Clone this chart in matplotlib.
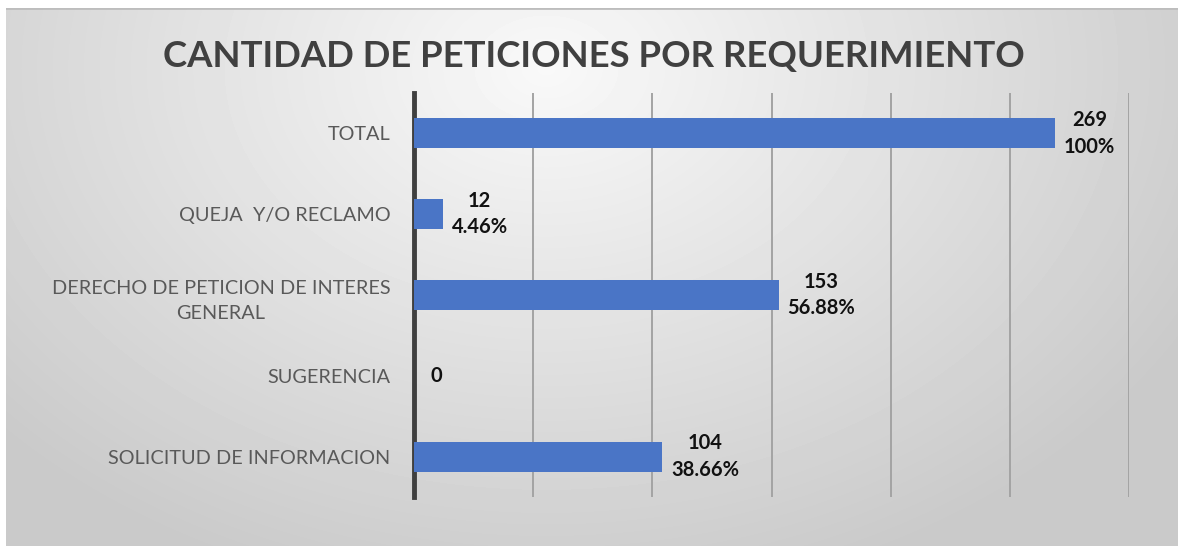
import numpy as np
import matplotlib

matplotlib.use("Agg")
import matplotlib.pyplot as plt

categories = [
    "TOTAL",
    "QUEJA  Y/O RECLAMO",
    "DERECHO DE PETICION DE INTERES\nGENERAL",
    "SUGERENCIA",
    "SOLICITUD DE INFORMACION",
]
counts = [269, 12, 153, 0, 104]
percents = ["100%", "4.46%", "56.88%", "", "38.66%"]

plt.rcParams["font.family"] = ["Lato", "DejaVu Sans"]

fig = plt.figure(figsize=(11.78, 5.46), dpi=100)
fig.patch.set_facecolor("white")

# radial gray background panel
bg = fig.add_axes([6 / 1178, 0, 1 - 6 / 1178, 1 - 8 / 546])
bg.set_axis_off()
yy, xx = np.mgrid[0:538, 0:1172]
r = np.sqrt(((xx - 540) / 760.0) ** 2 + ((yy - 60) / 560.0) ** 2)
shade = np.clip(0.975 - 0.19 * r, 0.79, 0.975)
bg.imshow(shade, cmap="gray", vmin=0, vmax=1, aspect="auto",
          interpolation="bilinear", extent=[0, 1, 0, 1], origin="upper")
bg.set_xlim(0, 1)
bg.set_ylim(0, 1)
bg.axhline(1.0, color="#bdbdbd", lw=2)

ax = fig.add_axes([414 / 1178, 49 / 546, 715 / 1178, 404 / 546])
ax.patch.set_alpha(0)

y = np.arange(len(categories))
ax.barh(y, counts, height=0.37, color="#4a75c6", edgecolor="none", zorder=3)

for yi, c, p in zip(y, counts, percents):
    txt = f"{c}\n{p}" if p else f"{c}"
    off = 6.5 if c else 12
    ax.annotate(txt, (c, yi), xytext=(off, 0), textcoords="offset points",
                ha="left", va="center", multialignment="center",
                fontsize=14.5, fontweight="bold", color="#111111",
                linespacing=1.4, zorder=4)

ax.set_xlim(0, 300)
ax.set_ylim(len(categories) - 0.5, -0.5)
ax.set_xticks(np.arange(50, 301, 50))
ax.set_xticklabels([])
ax.tick_params(axis="x", length=0)
ax.xaxis.grid(True, color="#a3a3a3", linewidth=1.4, zorder=0)
ax.set_axisbelow(True)

ax.set_yticks(y)
ax.set_yticklabels(categories, fontsize=14.3, color="#595959")
ax.tick_params(axis="y", length=0, pad=17)
for lbl in ax.get_yticklabels():
    lbl.set_multialignment("center")
    lbl.set_linespacing(1.6)

for s in ["top", "right", "bottom"]:
    ax.spines[s].set_visible(False)
ax.spines["left"].set_color("#3f3f3f")
ax.spines["left"].set_linewidth(3.5)

fig.text(0.504, 1 - 56 / 546, "CANTIDAD DE PETICIONES POR REQUERIMIENTO",
         ha="center", va="center", fontsize=26.3, fontweight="bold",
         color="#404040")

fig.savefig("out.png", dpi=100)
